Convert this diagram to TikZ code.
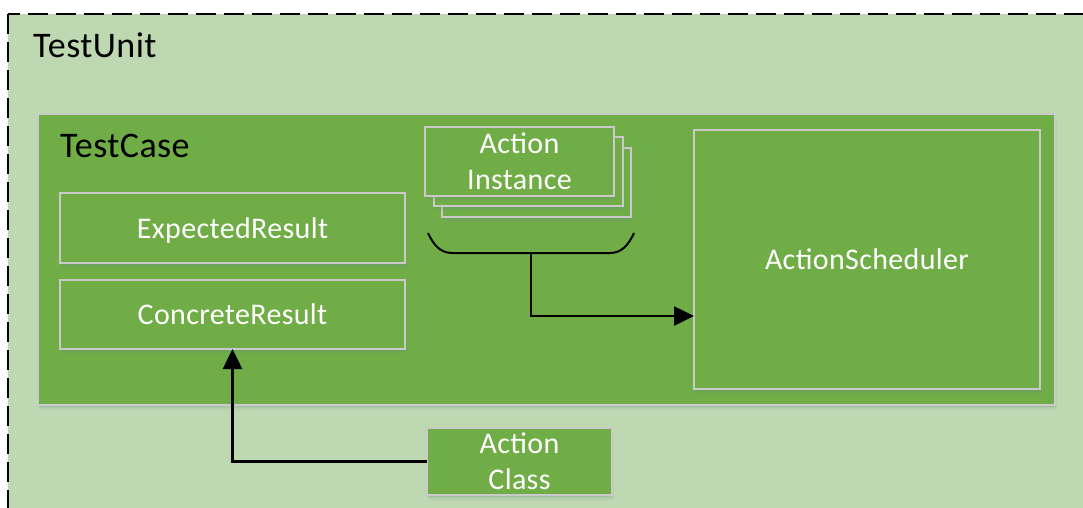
\documentclass[tikz,border=0pt]{standalone}
\usepackage{fontspec}
\setmainfont[LetterSpace=1.2]{Carlito}
\usetikzlibrary{arrows.meta}
\definecolor{unitbg}{HTML}{BED8B2}
\definecolor{casefg}{HTML}{70AD47}
\definecolor{rim}{HTML}{CACACA}
\definecolor{shade}{HTML}{5E8F8A}
\tikzset{
  x=1pt, y=-1pt,
  softshadow/.style={
    preaction={fill=shade, fill opacity=0.10, transform canvas={shift={(2pt,-5pt)}}},
    preaction={fill=shade, fill opacity=0.10, transform canvas={shift={(1pt,-3pt)}}},
    preaction={fill=shade, fill opacity=0.12, transform canvas={shift={(0pt,-1.5pt)}}}},
  block/.style={rectangle, draw=rim, line width=2pt, fill=casefg, text=white,
    inner sep=0pt, outer sep=0pt, align=center, font=\fontsize{30}{36}\selectfont,
    softshadow},
  oneline/.style={block, text depth=0pt},
  title/.style={anchor=base west, inner sep=0pt, font=\fontsize{36}{40}\selectfont},
  link/.style={line width=2.6pt, -{Triangle[length=20pt,width=19pt]}},
}
\begin{document}
\begin{tikzpicture}
\useasboundingbox (0,0) rectangle (1083,507);
\begin{scope}
\clip (0,0) rectangle (1083,507);
% outer dashed container
\draw[fill=unitbg, line width=2.6pt, dash pattern=on 20pt off 8pt] (8,14) rectangle (1120,560);
\node[title] (unit) at (33,57) {TestUnit};

% test case container
\node[block, minimum width=1017pt, minimum height=291pt] (case) at (546.5,259.5) {};
\node[title] (casettl) at (60,157) {TestCase};

\node[oneline, minimum width=345pt, minimum height=70pt] (exp) at (232.5,228) {ExpectedResult};
\node[oneline, minimum width=345pt, minimum height=69pt] (conc) at (232.5,314.5) {ConcreteResult};

% stacked action instances
\node[block, minimum width=189pt, minimum height=69pt] (inst3) at (536.5,182.5) {};
\node[block, minimum width=189pt, minimum height=69pt] (inst2) at (528.5,171.5) {};
\node[block, minimum width=189pt, minimum height=69pt] (inst) at (519.5,161.5) {Action\\Instance};

\node[oneline, minimum width=346pt, minimum height=259pt] (sched) at (867,259.5) {ActionScheduler};
\node[block, minimum width=185pt, minimum height=67pt] (cls) at (519.5,461.5) {Action\\Class};

% brace gathering the instances
\draw[line width=2pt] (428,233) to[out=-65,in=180] (452,253) -- (610,253) to[out=0,in=-115] (634,233);
\coordinate (brace) at (531,253);

% connectors
\draw[link] (brace) |- ([yshift=-56.5pt]sched.west);
\draw[link] (cls.west) -| (conc.south);
\end{scope}
\end{tikzpicture}
\end{document}
